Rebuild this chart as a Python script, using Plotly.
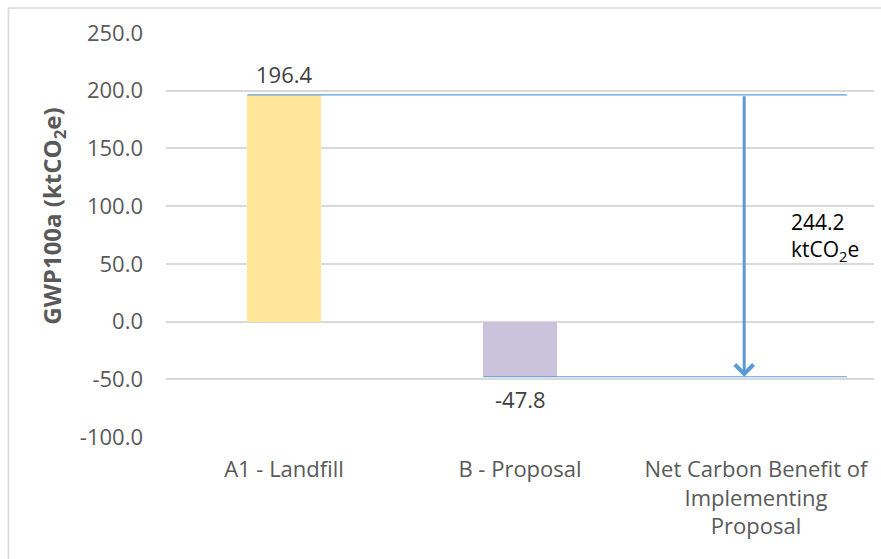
import plotly.graph_objects as go

categories = ["A1 - Landfill", "B - Proposal", "Net Carbon Benefit of<br>Implementing<br>Proposal"]
values = [196.4, -47.8, None]
bar_colors = ["#FFE699", "#CBC2DC", "rgba(0,0,0,0)"]
data_labels = ["196.4", "-47.8"]
net_benefit = 244.2
y_ticks = [-100, -50, 0, 50, 100, 150, 200, 250]

FONT = "Open Sans, sans-serif"
BLUE = "#5B9BD5"

fig = go.Figure()
fig.add_trace(go.Bar(
    x=categories, y=[v if v is not None else 0 for v in values],
    marker=dict(color=bar_colors, line=dict(width=0)),
    width=0.31, showlegend=False, hoverinfo="skip",
))

# data labels
fig.add_annotation(x=0, y=values[0], text=data_labels[0], showarrow=False,
                   yanchor="bottom", yshift=4, font=dict(size=22, color="#404040", family=FONT))
fig.add_annotation(x=1, y=values[1], text=data_labels[1], showarrow=False,
                   yanchor="top", yshift=-5, font=dict(size=22, color="#404040", family=FONT))

# reference lines
fig.add_shape(type="line", xref="x", yref="y", x0=-0.155, x1=2.385, y0=values[0], y1=values[0],
              line=dict(color=BLUE, width=1.2))
fig.add_shape(type="line", xref="x", yref="y", x0=0.845, x1=2.385, y0=values[1], y1=values[1],
              line=dict(color=BLUE, width=1.2))

# arrow
fig.add_annotation(x=1.95, y=values[1], ax=1.95, ay=values[0], xref="x", yref="y",
                   axref="x", ayref="y", showarrow=True, arrowhead=4, arrowsize=1.2,
                   arrowwidth=3, arrowcolor=BLUE, text="")

fig.add_annotation(x=2.14, y=73, xref="x", yref="y", xanchor="left", align="left",
                   text=f"{net_benefit}<br>ktCO<sub>2</sub>e", showarrow=False,
                   font=dict(size=21, color="#000000", family=FONT))

# y title
fig.add_annotation(x=-0.16, y=0.547, xref="paper", yref="paper", textangle=-90,
                   xanchor="center", yanchor="middle",
                   text="<b>GWP100a (ktCO<sub>2</sub>e)</b>", showarrow=False,
                   font=dict(size=24, color="#595959", family=FONT))

# chart border (top and left)
fig.add_shape(type="line", xref="paper", yref="paper", x0=-0.2225, x1=1.01, y0=1.062, y1=1.062,
              line=dict(color="#D9D9D9", width=1.5))
fig.add_shape(type="line", xref="paper", yref="paper", x0=-0.2225, x1=-0.2225, y0=1.062, y1=-0.31,
              line=dict(color="#D9D9D9", width=1.5))

fig.update_layout(
    width=881, height=559,
    margin=dict(l=166, r=7, t=33, b=122),
    plot_bgcolor="white", paper_bgcolor="white",
    font=dict(family=FONT, color="#595959", size=22),
    xaxis=dict(showgrid=False, showline=False, zeroline=False, ticks="",
               tickfont=dict(size=22, color="#595959"), range=[-0.5, 2.5],
               ticklabelstandoff=17),
    yaxis=dict(range=[-100, 250], tickvals=y_ticks, ticktext=[f"{v:.1f}" for v in y_ticks],
               showgrid=True, gridcolor="#D9D9D9", gridwidth=1.5, zeroline=False,
               showline=False, ticks="", ticklabelstandoff=22,
               tickfont=dict(size=22, color="#595959")),
    bargap=0,
)

fig.write_html("out.html")
